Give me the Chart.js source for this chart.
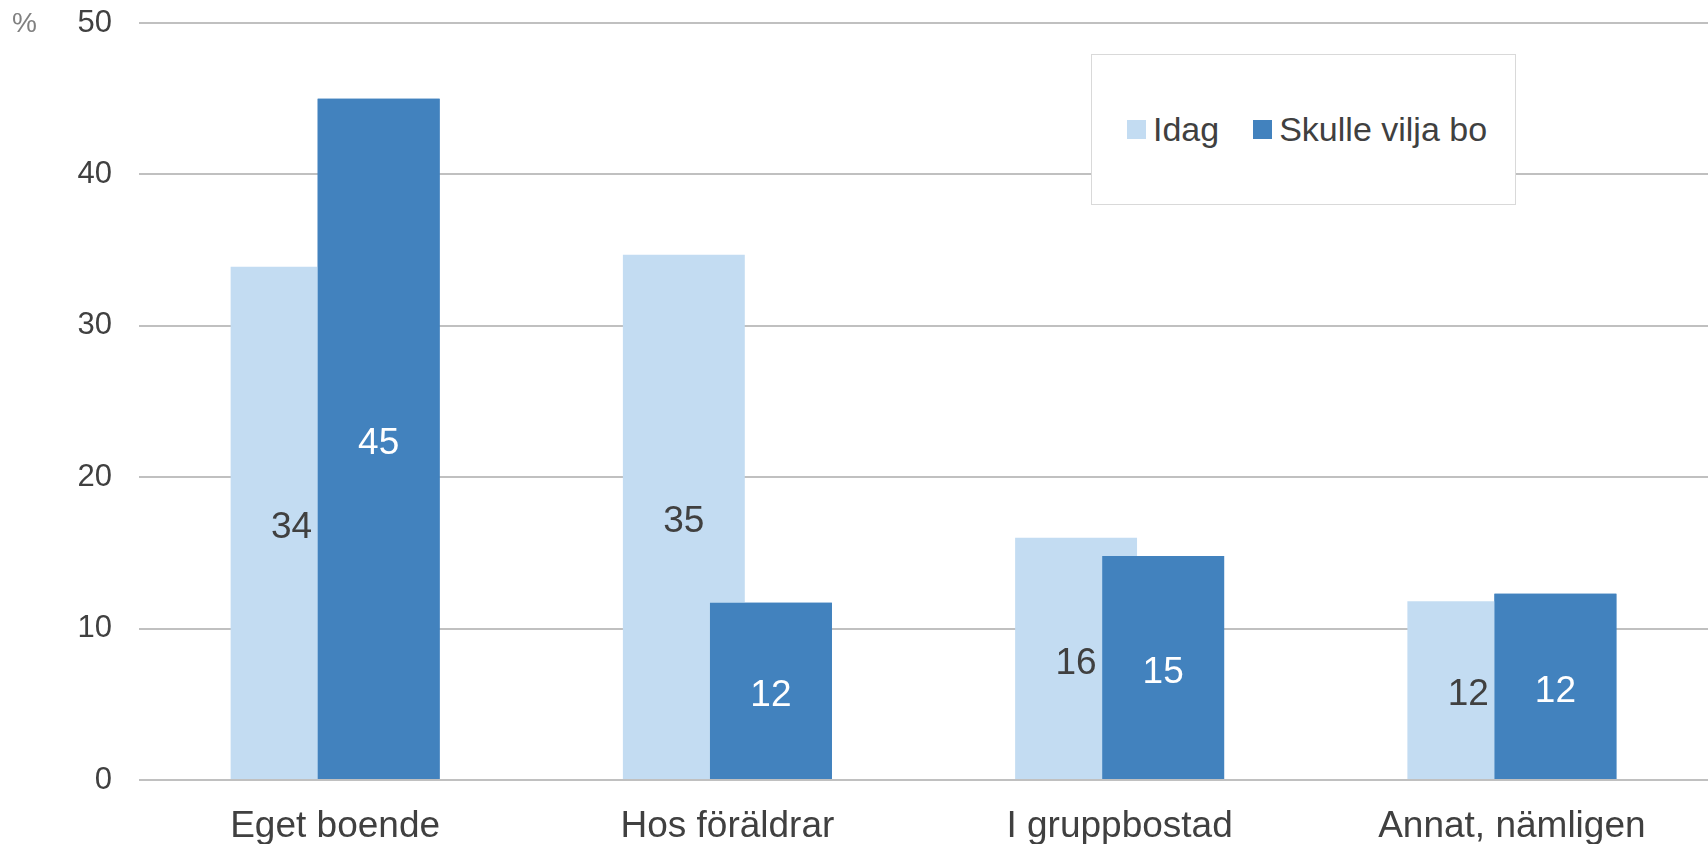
<!DOCTYPE html>
<html>
<head>
<meta charset="utf-8">
<script src="https://cdn.jsdelivr.net/npm/chart.js@4"></script>
<style>
    body { margin: 0; background: #fff; font-family: "Liberation Sans", Arial, sans-serif; }
    #wrap { position: relative; width: 1708px; height: 844px; }
    #legend {
        position: absolute; left: 1091px; top: 54px; width: 388px; height: 149px;
        border: 1px solid #d9d9d9; background: #fff; padding-left: 35px;
        display: flex; align-items: center; white-space: nowrap;
        font-size: 34px; color: #404040;
    }
    .item { display: flex; align-items: center; flex-shrink: 0; margin-right: 34px; }
    .box { width: 19px; height: 19px; margin-right: 7px; flex-shrink: 0; }
</style>
</head>
<body>
<div id="wrap">
    <canvas id="chart" width="1708" height="844"></canvas>
    <div id="legend"></div>
</div>
<script>
const categories = ['Eget boende', 'Hos föräldrar', 'I gruppbostad', 'Annat, nämligen'];
const idag = [33.9, 34.7, 16.0, 11.8];
const vilja = [45.0, 11.7, 14.8, 12.3];
const seriesNames = ['Idag', 'Skulle vilja bo'];
const yTicks = [0, 10, 20, 30, 40, 50];

const colors = ['#c3dcf2', '#4282be'];
const labelColors = ['#404040', '#ffffff'];

// dark bars overlap the light ones, and labels sit in the middle of each bar
const barExtras = {
    id: 'barExtras',
    afterDatasetsDraw(chart) {
        const ctx = chart.ctx;
        chart.getDatasetMeta(1).controller.draw();
        ctx.save();
        ctx.font = '37px "Liberation Sans", Arial, sans-serif';
        ctx.textAlign = 'center';
        ctx.textBaseline = 'middle';
        chart.data.datasets.forEach((ds, i) => {
            chart.getDatasetMeta(i).data.forEach((bar, j) => {
                ctx.fillStyle = labelColors[i];
                ctx.fillText(Math.round(ds.data[j]), bar.x, (bar.y + bar.base) / 2 + 5);
            });
        });
        const y = chart.scales.y;
        ctx.font = '28px "Liberation Sans", Arial, sans-serif';
        ctx.fillStyle = '#808080';
        ctx.textAlign = 'left';
        ctx.fillText('%', 12, y.getPixelForValue(y.max) + 1);
        ctx.restore();
    }
};

const chart = new Chart(document.getElementById('chart'), {
    type: 'bar',
    data: {
        labels: categories,
        datasets: [
            { label: seriesNames[0], data: idag, backgroundColor: colors[0] },
            { label: seriesNames[1], data: vilja, backgroundColor: colors[1] }
        ]
    },
    options: {
        responsive: false,
        animation: false,
        categoryPercentage: 0.444,
        barPercentage: 1.4,
        layout: { padding: { top: 23, left: 0, right: 0, bottom: 0 } },
        plugins: {
            legend: { display: false },
            tooltip: { enabled: false }
        },
        scales: {
            x: {
                grid: { display: false, drawTicks: false },
                border: { display: false },
                ticks: {
                    color: '#404040',
                    padding: 25,
                    font: { family: '"Liberation Sans", Arial, sans-serif', size: 37 }
                },
                afterFit(scale) { scale.height = 64; scale.paddingLeft = 0; scale.paddingRight = 0; }
            },
            y: {
                min: 0,
                max: 50,
                afterBuildTicks(scale) { scale.ticks = yTicks.map(v => ({ value: v })); },
                grid: { color: '#c0c0c0', lineWidth: 2, drawTicks: false },
                border: { display: false },
                ticks: {
                    color: '#404040',
                    padding: 27,
                    font: { family: '"Liberation Sans", Arial, sans-serif', size: 31 }
                },
                afterFit(scale) { scale.width = 139; scale.paddingTop = 0; scale.paddingBottom = 0; }
            }
        }
    },
    plugins: [barExtras]
});

// html legend
const legend = document.getElementById('legend');
chart.data.datasets.forEach(ds => {
    const item = document.createElement('div');
    item.className = 'item';
    const box = document.createElement('span');
    box.className = 'box';
    box.style.background = ds.backgroundColor;
    const txt = document.createElement('span');
    txt.textContent = ds.label;
    item.appendChild(box);
    item.appendChild(txt);
    legend.appendChild(item);
});
</script>
</body>
</html>
